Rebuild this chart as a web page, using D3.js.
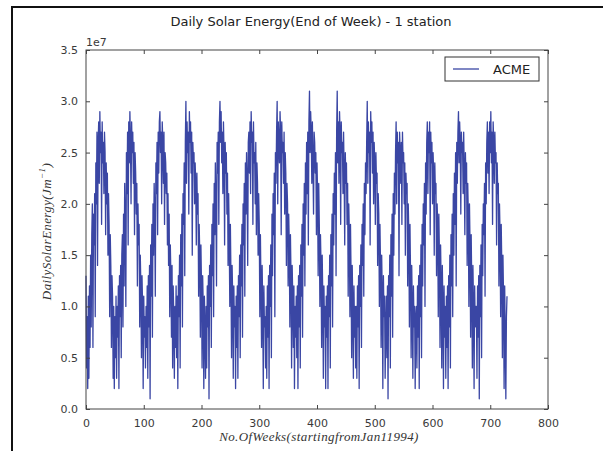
<!DOCTYPE html>
<html>
<head>
<meta charset="utf-8">
<script src="https://cdn.jsdelivr.net/npm/d3@7"></script>
<style>
  body { margin: 0; background: #fff; }
  svg { display: block; }
</style>
</head>
<body>
<svg id="chart" width="603" height="451"></svg>
<script>
// weekly values in MJ/m^2 (x1e6 J)
const year1994 = [13,4,9,2,11,3,12,6,15,8,17,20,6,19,16,21,9,24,20,27,14,26,28,22,29,25,27,18,28,24,26,21,27,25,17,24,20,23,15,21,18,9,17,14,6,13,11,3,10,2,9,5];
const year1995 = [11,3,10,7,12,2,13,9,14,5,15,17,8,19,12,22,18,10,25,21,27,16,28,24,29,26,20,28,25,27,22,26,17,25,23,19,22,12,20,16,18,8,15,12,5,13,10,2,11,7,9,4];
const year1996 = [10,6,12,3,13,8,14,1,16,11,18,7,20,15,22,19,11,24,21,26,17,27,23,28,29,25,27,20,28,26,22,27,18,25,24,21,23,16,21,14,19,9,16,13,7,14,4,12,9,3,10,6];
const year1997 = [12,5,11,2,13,9,15,4,17,12,19,8,21,18,24,13,26,30,22,28,25,27,19,29,26,28,23,27,15,26,24,25,20,24,22,16,23,19,21,11,18,15,7,16,12,4,13,10,2,11,8,3];
const year1998 = [10,4,12,8,13,1,14,10,16,6,18,13,20,9,22,17,24,20,12,26,23,27,18,28,30,26,29,24,27,21,28,25,16,26,23,25,19,23,14,21,17,10,18,13,5,14,11,3,12,8,10,2];
const year1999 = [11,6,12,3,13,9,15,5,16,12,18,7,20,16,22,11,24,19,25,22,14,26,27,23,28,21,29,26,27,18,28,24,25,20,26,17,24,22,15,21,18,9,17,12,6,14,10,2,12,8,9,4];
const year2000 = [10,3,12,7,13,2,14,10,16,5,19,13,21,17,23,9,25,22,27,30,20,28,26,24,29,27,17,28,25,26,22,27,19,25,23,14,22,20,12,19,16,8,17,13,4,14,11,6,12,2,10,7];
const year2001 = [11,5,12,2,13,8,14,4,16,11,18,7,20,15,22,12,24,19,26,21,27,16,28,31,25,29,27,22,28,24,19,27,26,23,25,17,24,21,13,22,18,10,17,14,6,15,11,3,12,8,10,2];
const year2002 = [11,7,12,2,13,9,15,4,17,12,19,8,21,16,23,19,25,13,27,31,24,28,22,29,27,18,28,25,26,21,27,23,16,25,22,24,18,22,11,20,17,9,18,13,5,14,10,3,12,7,10,4];
const year2003 = [10,3,12,8,13,2,14,10,16,6,18,14,20,11,22,17,24,21,26,30,22,28,25,27,16,29,26,28,23,27,20,26,24,18,25,22,23,14,21,19,10,18,14,6,15,11,2,13,9,11,3,8];
const year2004 = [11,5,12,1,13,9,15,4,17,11,19,7,21,15,23,19,25,28,20,27,24,26,13,27,25,22,26,18,27,24,25,20,24,15,23,21,22,12,20,17,8,18,13,5,14,10,3,12,8,10,2,9];
const year2005 = [10,4,12,7,13,2,14,9,16,5,18,12,20,16,22,10,24,19,26,28,21,27,25,28,17,27,24,26,20,25,23,15,24,21,22,13,20,18,9,19,15,6,16,12,4,14,10,2,12,7,10,3];
const year2006 = [11,6,12,2,13,8,15,4,17,12,19,9,21,15,23,18,25,12,26,22,27,29,24,28,26,19,27,25,26,21,27,23,17,25,22,24,14,22,19,10,20,16,7,17,12,4,14,10,2,12,8,10];
const year2007 = [10,3,12,7,13,1,14,9,16,5,18,13,20,17,22,11,24,20,26,28,23,27,21,28,25,29,24,27,18,28,26,22,27,24,25,16,24,21,22,12,20,17,9,18,14,5,15,11,2,12,7,1,9,11];

const years = [year1994, year1995, year1996, year1997, year1998, year1999, year2000,
               year2001, year2002, year2003, year2004, year2005, year2006, year2007];
const energy = years.flat().map(v => v * 1e6);

const xTicks = [0, 100, 200, 300, 400, 500, 600, 700, 800];
const yTicks = [0, 0.5e7, 1.0e7, 1.5e7, 2.0e7, 2.5e7, 3.0e7, 3.5e7];
const seriesName = "ACME";

(function() {
  const svg = d3.select("#chart");
  const W = 603, H = 451;
  const x0 = 86, x1 = 548, y0 = 50, y1 = 409;

  svg.append("rect").attr("width", W).attr("height", H).attr("fill", "#fff");

  // scanned page frame
  svg.append("path")
    .attr("d", `M12,${H} L12,7 L${W},7`)
    .attr("fill", "none").attr("stroke", "#111").attr("stroke-width", 2);

  const x = d3.scaleLinear().domain([0, 800]).range([x0, x1]);
  const y = d3.scaleLinear().domain([0, 3.5e7]).range([y1, y0]);

  // data line
  const line = d3.line().x((d, i) => x(i)).y(d => y(d));
  svg.append("path")
    .datum(energy)
    .attr("fill", "none")
    .attr("stroke", "#3a46a4")
    .attr("stroke-width", 1.3)
    .attr("stroke-linejoin", "round")
    .attr("d", line);

  // axes, matplotlib style: ticks inward on all four sides
  const tickFont = "'DejaVu Sans', sans-serif";
  const fmtY = d => (d / 1e7).toFixed(1);

  const axBottom = svg.append("g").attr("transform", `translate(0,${y1})`)
    .call(d3.axisBottom(x).tickValues(xTicks).tickSize(-4).tickPadding(10).tickFormat(d3.format("d")));
  const axTop = svg.append("g").attr("transform", `translate(0,${y0})`)
    .call(d3.axisTop(x).tickValues(xTicks).tickSize(-4).tickFormat(""));
  const axLeft = svg.append("g").attr("transform", `translate(${x0},0)`)
    .call(d3.axisLeft(y).tickValues(yTicks).tickSize(-4).tickPadding(8).tickFormat(fmtY));
  const axRight = svg.append("g").attr("transform", `translate(${x1},0)`)
    .call(d3.axisRight(y).tickValues(yTicks).tickSize(-4).tickFormat(""));

  [axBottom, axTop, axLeft, axRight].forEach(g => {
    g.select(".domain").remove();
    g.selectAll(".tick line").attr("stroke", "#444");
    g.selectAll("text").attr("fill", "#3a3a3a").style("font-family", tickFont).style("font-size", "11px");
  });

  svg.append("rect")
    .attr("x", x0).attr("y", y0).attr("width", x1 - x0).attr("height", y1 - y0)
    .attr("fill", "none").attr("stroke", "#444").attr("stroke-width", 1);

  // offset text
  svg.append("text").attr("x", x0).attr("y", y0 - 4)
    .attr("fill", "#3a3a3a").style("font-family", tickFont).style("font-size", "11px")
    .text("1e7");

  // title
  svg.append("text").attr("x", 311).attr("y", 26).attr("text-anchor", "middle")
    .attr("fill", "#222").style("font-family", tickFont).style("font-size", "13px")
    .text("Daily Solar Energy(End of Week) - 1 station");

  // axis labels (mathtext look)
  const mathFont = "'Liberation Serif', 'DejaVu Serif', serif";
  svg.append("text").attr("x", 319).attr("y", 441).attr("text-anchor", "middle")
    .attr("fill", "#333").style("font-family", mathFont).style("font-style", "italic")
    .style("font-size", "13px").style("letter-spacing", "0.4px")
    .text("No.OfWeeks(startingfromJan11994)");

  const yl = svg.append("text")
    .attr("transform", `translate(51,${(y0 + y1) / 2 + 2}) rotate(-90)`)
    .attr("text-anchor", "middle")
    .attr("fill", "#333").style("font-family", mathFont).style("font-style", "italic")
    .style("font-size", "13px").style("letter-spacing", "0.4px");
  yl.append("tspan").text("DailySolarEnergy(Jm");
  yl.append("tspan").attr("dy", -6).style("font-size", "9px").text("\u22121");
  yl.append("tspan").attr("dy", 6).text(")");

  // legend
  const lg = svg.append("g").attr("transform", "translate(445,57)");
  lg.append("rect").attr("width", 94).attr("height", 24)
    .attr("fill", "#fff").attr("stroke", "#333").attr("stroke-width", 1);
  lg.append("line").attr("x1", 8).attr("x2", 34).attr("y1", 12).attr("y2", 12)
    .attr("stroke", "#3a46a4").attr("stroke-width", 1.3);
  lg.append("text").attr("x", 48).attr("y", 17)
    .attr("fill", "#222").style("font-family", tickFont).style("font-size", "13px")
    .text(seriesName);
})();
</script>
</body>
</html>
